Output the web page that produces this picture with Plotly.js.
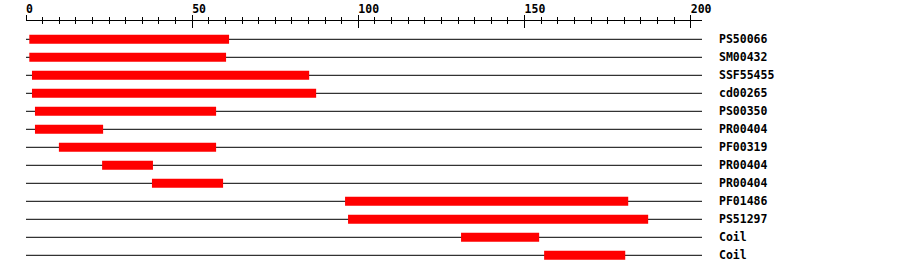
<!DOCTYPE html>
<html>
<head>
<meta charset="utf-8">
<script src="https://cdn.plot.ly/plotly-3.0.1.min.js"></script>
<style>
  html, body { margin: 0; padding: 0; background: #ffffff; }
  #chart { width: 900px; height: 274px; }
</style>
</head>
<body>
<div id="chart"></div>
<script>
// ---- data ----
const labels = ['PS50066', 'SM00432', 'SSF55455', 'cd00265', 'PS00350', 'PR00404', 'PF00319',
                'PR00404', 'PR00404', 'PF01486', 'PS51297', 'Coil', 'Coil'];
const starts = [1, 1, 1.8, 1.8, 2.7, 2.7, 9.9, 22.9, 37.9, 96, 96.9, 130.9, 155.9];
const ends   = [61.1, 60.2, 85.2, 87.3, 57.2, 23.2, 57.2, 38.2, 59.3, 181.2, 187.2, 154.4, 180.3];
const seqLength = 203.4;
const xTickVals = [0, 50, 100, 150, 200];
const xTickLabels = ['0', '50', '100', '150', '200'];

// ---- build traces ----
const rows = labels.map((_, i) => i);
const lineX = [], lineY = [];
rows.forEach(i => { lineX.push(0, seqLength, null); lineY.push(i, i, null); });

// left-align tick labels at their tick by padding with non-breaking spaces (monospace font)
const NBSP = '\u00A0';
const xTickText = xTickLabels.map(s => NBSP.repeat(s.length) + s);

const fontMono = { family: 'DejaVu Sans Mono, monospace', size: 11.5, color: '#000000', weight: 'bold' };

const traces = [
  {
    type: 'scatter', mode: 'lines', x: lineX, y: lineY,
    xaxis: 'x', yaxis: 'y',
    line: { color: '#000000', width: 1 },
    hoverinfo: 'skip', showlegend: false
  },
  {
    type: 'bar', orientation: 'h',
    y: rows, base: starts, x: ends.map((e, i) => e - starts[i]),
    width: 0.5,
    xaxis: 'x2', yaxis: 'y',
    marker: { color: '#ff0000', line: { width: 0 } },
    hoverinfo: 'skip', showlegend: false
  }
];

const plotTop = 21, plotBottomMargin = 4, plotH = 274 - plotTop - plotBottomMargin;
const firstRowOffset = 18.3, rowPitch = 18;
const yTop = -firstRowOffset / rowPitch;
const yBottom = yTop + plotH / rowPitch;

const xRange = [0, seqLength];

const layout = {
  width: 900, height: 274,
  margin: { l: 26, r: 198, t: plotTop, b: plotBottomMargin, pad: 0 },
  paper_bgcolor: '#ffffff', plot_bgcolor: '#ffffff',
  showlegend: false,
  hovermode: false,
  xaxis: {
    side: 'top', range: xRange, fixedrange: true,
    showgrid: false, zeroline: false,
    showline: true, linecolor: '#000000', linewidth: 1,
    tickmode: 'array', tickvals: xTickVals, ticktext: xTickText,
    ticks: 'outside', ticklen: 5, tickwidth: 1, tickcolor: '#000000',
    minor: { dtick: 5, ticks: 'outside', ticklen: 3, tickwidth: 1, tickcolor: '#000000', showgrid: false },
    tickfont: fontMono, ticklabelstandoff: -3
  },
  xaxis2: {
    overlaying: 'x', side: 'top', anchor: 'y', range: xRange, fixedrange: true,
    showgrid: false, zeroline: false, showline: false,
    tickmode: 'array', tickvals: xTickVals, showticklabels: false,
    ticks: 'inside', ticklen: 7, tickwidth: 1, tickcolor: '#000000',
    minor: { dtick: 5, ticks: 'inside', ticklen: 3, tickwidth: 1, tickcolor: '#000000', showgrid: false }
  },
  yaxis: {
    range: [yBottom, yTop], fixedrange: true,
    side: 'right', showgrid: false, zeroline: false, showline: false,
    tickmode: 'array', tickvals: rows, ticktext: labels,
    ticks: '', tickfont: fontMono, ticklabelstandoff: 16
  }
};

Plotly.newPlot('chart', traces, layout, { staticPlot: true, displayModeBar: false });
</script>
</body>
</html>
